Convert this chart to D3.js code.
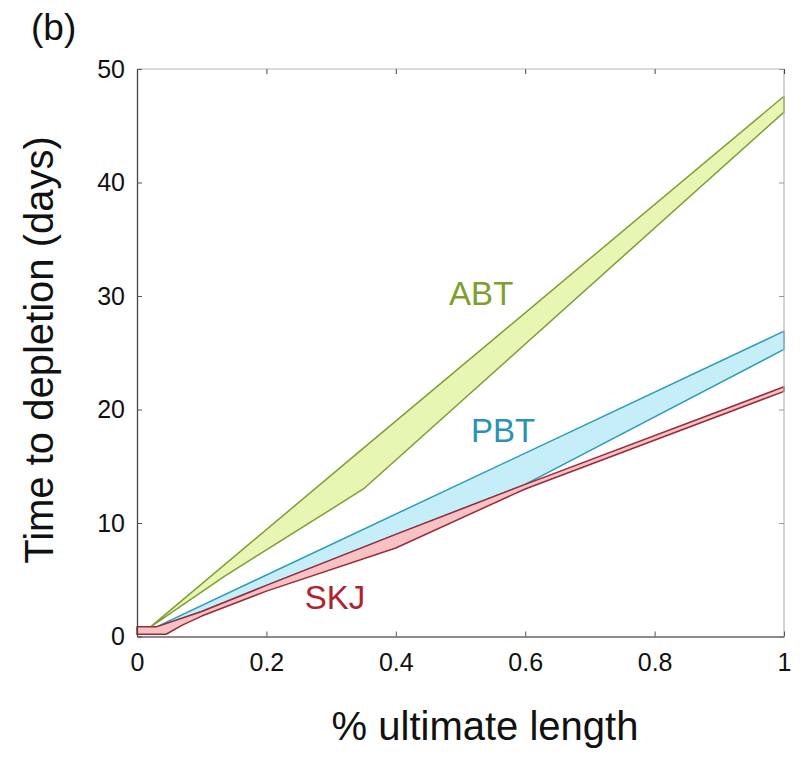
<!DOCTYPE html>
<html>
<head>
<meta charset="utf-8">
<script src="https://cdn.jsdelivr.net/npm/d3@7"></script>
<style>
  body { margin: 0; background: #fff; }
  svg { display: block; }
  text { font-family: "Liberation Sans", Arial, Helvetica, sans-serif; }
</style>
</head>
<body>
<svg id="chart" width="806" height="757"></svg>
<script>
// Axis ticks
const xTicks = [0, 0.2, 0.4, 0.6, 0.8, 1];
const xTickLabels = ["0", "0.2", "0.4", "0.6", "0.8", "1"];
const yTicks = [0, 10, 20, 30, 40, 50];
const yTickLabels = ["0", "10", "20", "30", "40", "50"];

// Species and their envelope edges: [fraction of ultimate length, days]
const species = ["ABT", "PBT", "SKJ"];
const abtUpper = [[0.02, 0.8], [0.35, 16.6], [1, 47.6]];
const abtLower = [[0.02, 0.8], [0.135, 5.3], [0.35, 13.0], [1, 46.2]];
const pbtUpper = [[0.03, 0.85], [1, 26.9]];
const pbtLower = [[0.03, 0.85], [0.1, 2.2], [0.2, 4.5], [0.4, 9.0], [0.6, 13.4], [1, 25.3]];
const skjUpper = [[0, 0.85], [0.03, 0.85], [0.1, 2.2], [0.2, 4.5], [0.4, 9.0], [0.6, 13.4], [1, 22.0]];
const skjLower = [[0, 0.2], [0.045, 0.2], [0.07, 1.0], [0.1, 1.8], [0.2, 4.0], [0.4, 7.8], [0.6, 13.0], [1, 21.6]];

const bands = [
  { name: species[0], upper: abtUpper, lower: abtLower, fill: "#e8f6b4", stroke: "#7f9e34", text: "#7f9e2c", label: [0.532, 29.2] },
  { name: species[1], upper: pbtUpper, lower: pbtLower, fill: "#c6eef8", stroke: "#2d9bbb", text: "#2a92b6", label: [0.566, 17.15] },
  { name: species[2], upper: skjUpper, lower: skjLower, fill: "#f8c2c4", stroke: "#9a2a3a", text: "#b3212f", label: [0.306, 2.4] }
];

const svg = d3.select("#chart");
const plotLeft = 137, plotRight = 784, plotTop = 69, plotBottom = 636.5;

const x = d3.scaleLinear().domain([0, 1]).range([plotLeft, plotRight]);
const y = d3.scaleLinear().domain([0, 50]).range([plotBottom, plotTop]);

const line = d3.line().x(d => x(d[0])).y(d => y(d[1]));

// Envelope polygons: upper edge forward, lower edge back
bands.forEach(b => {
  const poly = b.upper.concat(b.lower.slice().reverse());
  svg.append("path")
    .attr("d", line(poly) + "Z")
    .attr("fill", b.fill)
    .attr("stroke", b.stroke)
    .attr("stroke-width", 1.5)
    .attr("stroke-linejoin", "round");
});

// Box frame: dark left/bottom, light top/right
svg.append("line").attr("x1", plotLeft).attr("x2", plotRight).attr("y1", plotTop).attr("y2", plotTop)
  .attr("stroke", "#b8b8b8").attr("stroke-width", 1.2);
svg.append("line").attr("x1", plotRight).attr("x2", plotRight).attr("y1", plotTop).attr("y2", plotBottom)
  .attr("stroke", "#b8b8b8").attr("stroke-width", 1.2);

// Mirrored inward ticks on top and right
svg.append("g").attr("transform", `translate(0,${plotTop})`)
  .call(d3.axisTop(x).tickValues(xTicks).tickSize(-5).tickFormat(""))
  .call(g => g.select(".domain").remove())
  .call(g => g.selectAll("line").attr("stroke", "#444"));
svg.append("g").attr("transform", `translate(${plotRight},0)`)
  .call(d3.axisRight(y).tickValues(yTicks).tickSize(-5).tickFormat(""))
  .call(g => g.select(".domain").remove())
  .call(g => g.selectAll("line").attr("stroke", "#999"));

// Bottom axis
svg.append("g").attr("transform", `translate(0,${plotBottom})`)
  .call(d3.axisBottom(x).tickValues(xTicks).tickSize(-5).tickSizeOuter(0).tickPadding(16.5)
    .tickFormat((d, i) => xTickLabels[i]))
  .call(g => g.select(".domain").attr("stroke", "#666").attr("stroke-width", 1.3))
  .call(g => g.selectAll("line").attr("stroke", "#555"))
  .call(g => g.selectAll("text").attr("font-size", 25).attr("fill", "#111")
    .attr("font-family", "'Liberation Sans', Arial, sans-serif"));

// Left axis
svg.append("g").attr("transform", `translate(${plotLeft},0)`)
  .call(d3.axisLeft(y).tickValues(yTicks).tickSize(-5).tickSizeOuter(0).tickPadding(12)
    .tickFormat((d, i) => yTickLabels[i]))
  .call(g => g.select(".domain").attr("stroke", "#444").attr("stroke-width", 1.3))
  .call(g => g.selectAll("line").attr("stroke", "#555"))
  .call(g => g.selectAll("text").attr("font-size", 25).attr("fill", "#111")
    .attr("font-family", "'Liberation Sans', Arial, sans-serif"));

// Species labels
bands.forEach(b => {
  svg.append("text")
    .attr("x", x(b.label[0]))
    .attr("y", y(b.label[1]))
    .attr("text-anchor", "middle")
    .attr("font-size", 33)
    .attr("fill", b.text)
    .text(b.name);
});

// Axis titles
svg.append("text")
  .attr("x", 485)
  .attr("y", 740)
  .attr("text-anchor", "middle")
  .attr("font-size", 40)
  .attr("fill", "#111")
  .text("% ultimate length");

svg.append("text")
  .attr("transform", `translate(53,350) rotate(-90)`)
  .attr("text-anchor", "middle")
  .attr("font-size", 40)
  .attr("fill", "#111")
  .text("Time to depletion (days)");

// Panel tag
svg.append("text")
  .attr("x", 31)
  .attr("y", 40)
  .attr("font-size", 37)
  .attr("fill", "#111")
  .text("(b)");
</script>
</body>
</html>
